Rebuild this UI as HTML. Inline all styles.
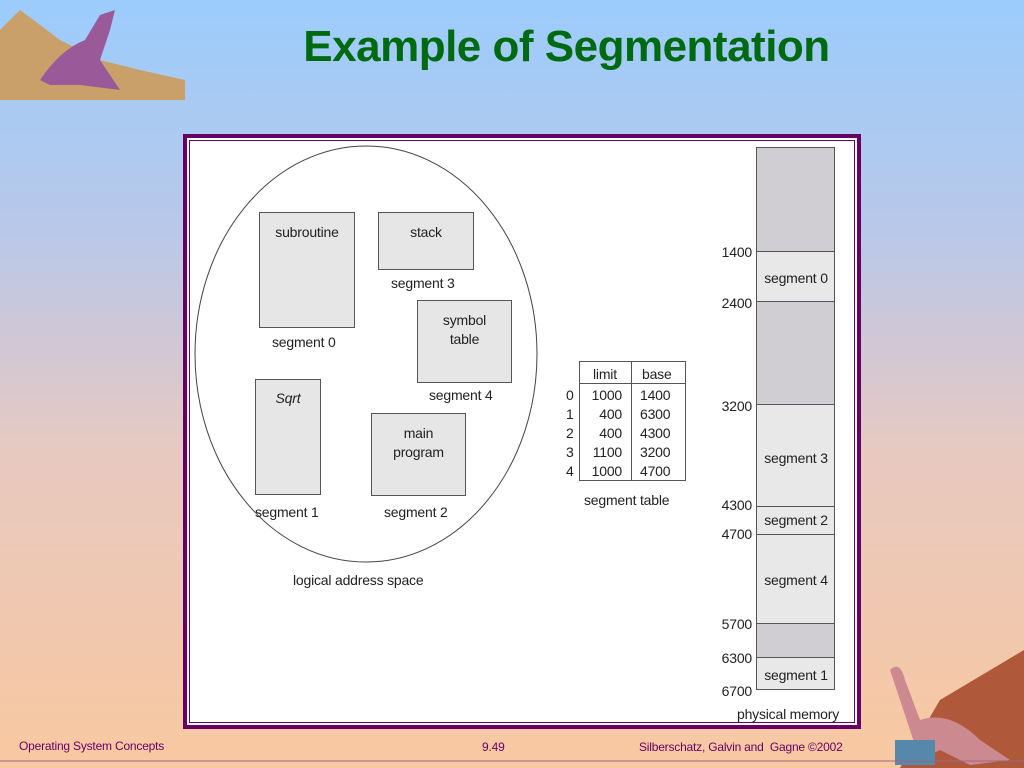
<!DOCTYPE html>
<html><head><meta charset="utf-8"><style>
body{margin:0;width:1024px;height:768px;overflow:hidden;font-family:"Liberation Sans",sans-serif;
background:linear-gradient(to bottom,#9cccfc 0%,#b9c8e8 30%,#e8c9c0 60%,#f8c8a0 100%);position:relative}
.t{position:absolute;font-size:14px;color:#222;white-space:nowrap;letter-spacing:-0.2px}
</style></head><body>
<div style="position:absolute;left:290px;top:22px;width:553px;text-align:center;font-size:44px;font-weight:bold;color:#006a10;letter-spacing:-0.5px;line-height:50px">Example of Segmentation</div>
<svg style="position:absolute;left:0;top:0" width="190" height="105"><polygon points="0,30 20,10 60,40 100,60 140,70 185,80 185,100 0,100" fill="#c9a06a"/><path d="M40,80 Q60,50 85,40 L100,15 L115,10 L110,30 L100,60 L120,90 L80,85 L50,85Z" fill="#9a5a9a"/></svg>
<svg style="position:absolute;left:880px;top:640px" width="144" height="128"><polygon points="60,60 144,10 144,128 20,128" fill="#b0583a"/><path d="M10,30 Q20,20 25,40 L40,80 Q70,70 100,100 L130,120 L90,125 L60,110 L40,120 Z" fill="#cc8a90"/><rect x="15" y="100" width="40" height="25" fill="#5588aa"/></svg>
<div style="position:absolute;left:183px;top:134px;width:670px;height:587px;border:4px solid #660066;background:#fff"></div>
<div style="position:absolute;left:189px;top:140px;width:664px;height:581px;border:1px solid #660066;background:#fff"></div>
<svg style="position:absolute;left:0;top:0" width="1024" height="768">
<ellipse cx="366" cy="354" rx="171" ry="208" fill="none" stroke="#444" stroke-width="1"/>
<g fill="#e6e6e6" stroke="#555" stroke-width="1">
<rect x="259.5" y="212.5" width="95" height="115"/>
<rect x="378.5" y="212.5" width="95" height="57"/>
<rect x="417.5" y="300.5" width="94" height="82"/>
<rect x="255.5" y="379.5" width="65" height="115"/>
<rect x="371.5" y="413.5" width="94" height="82"/>
</g>
<g fill="#fff" stroke="#555"><rect x="579.5" y="361.5" width="106" height="119"/><line x1="579" y1="383.5" x2="686" y2="383.5"/><line x1="631.5" y1="361" x2="631.5" y2="481"/></g>
<g stroke="#555" stroke-width="1">
<rect x="756.5" y="147.5" width="78" height="104" fill="#d0ced2"/>
<rect x="756.5" y="251.5" width="78" height="50" fill="#e8e8e8"/>
<rect x="756.5" y="301.5" width="78" height="103" fill="#d0ced2"/>
<rect x="756.5" y="404.5" width="78" height="102" fill="#e8e8e8"/>
<rect x="756.5" y="506.5" width="78" height="28" fill="#e8e8e8"/>
<rect x="756.5" y="534.5" width="78" height="89" fill="#e8e8e8"/>
<rect x="756.5" y="623.5" width="78" height="34" fill="#d0ced2"/>
<rect x="756.5" y="657.5" width="78" height="32" fill="#e8e8e8"/>
</g>
<line x1="0" y1="761" x2="1024" y2="761" stroke="#996688" stroke-width="1"/>
</svg>
<div class="t" style="left:259px;width:96px;text-align:center;top:224px">subroutine</div>
<div class="t" style="left:378px;width:96px;text-align:center;top:224px">stack</div>
<div class="t" style="left:417px;width:95px;text-align:center;top:311px;line-height:19px">symbol<br>table</div>
<div class="t" style="left:255px;width:66px;text-align:center;top:390px;font-style:italic">Sqrt</div>
<div class="t" style="left:371px;width:95px;text-align:center;top:424px;line-height:19px">main<br>program</div>
<div class="t" style="left:272px;top:334px">segment 0</div>
<div class="t" style="left:391px;top:275px">segment 3</div>
<div class="t" style="left:429px;top:387px">segment 4</div>
<div class="t" style="left:255px;top:504px">segment 1</div>
<div class="t" style="left:384px;top:504px">segment 2</div>
<div class="t" style="left:293px;top:572px">logical address space</div>
<div class="t" style="left:593px;top:366px">limit</div><div class="t" style="left:642px;top:366px">base</div>
<div class="t" style="left:566px;top:386px;line-height:19px;white-space:pre">0
1
2
3
4</div>
<div class="t" style="left:582px;width:40px;text-align:right;top:386px;line-height:19px;white-space:pre">1000
400
400
1100
1000</div>
<div class="t" style="left:640px;top:386px;line-height:19px;white-space:pre">1400
6300
4300
3200
4700</div>
<div class="t" style="left:584px;top:492px">segment table</div>
<div class="t" style="left:757px;width:78px;text-align:center;top:270px">segment 0</div>
<div class="t" style="left:757px;width:78px;text-align:center;top:450px">segment 3</div>
<div class="t" style="left:757px;width:78px;text-align:center;top:512px">segment 2</div>
<div class="t" style="left:757px;width:78px;text-align:center;top:572px">segment 4</div>
<div class="t" style="left:757px;width:78px;text-align:center;top:667px">segment 1</div>
<div class="t" style="left:700px;width:52px;text-align:right;top:244px">1400</div>
<div class="t" style="left:700px;width:52px;text-align:right;top:295px">2400</div>
<div class="t" style="left:700px;width:52px;text-align:right;top:398px">3200</div>
<div class="t" style="left:700px;width:52px;text-align:right;top:497px">4300</div>
<div class="t" style="left:700px;width:52px;text-align:right;top:526px">4700</div>
<div class="t" style="left:700px;width:52px;text-align:right;top:616px">5700</div>
<div class="t" style="left:700px;width:52px;text-align:right;top:650px">6300</div>
<div class="t" style="left:700px;width:52px;text-align:right;top:683px">6700</div>
<div class="t" style="left:737px;top:706px">physical memory</div>
<div class="t" style="left:19px;top:739px;font-size:12px;color:#660066">Operating System Concepts</div>
<div class="t" style="left:482px;top:740px;font-size:12px;color:#660066">9.49</div>
<div class="t" style="left:639px;top:740px;font-size:12px;color:#660066">Silberschatz, Galvin and &nbsp;Gagne ©2002</div>
</body></html>
